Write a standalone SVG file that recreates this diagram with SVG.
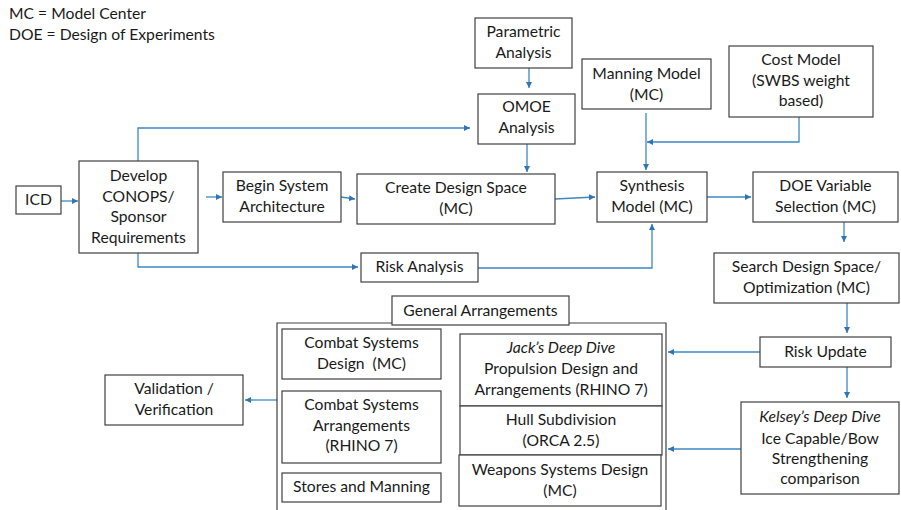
<svg xmlns="http://www.w3.org/2000/svg" width="901" height="510" viewBox="0 0 901 510">
<defs>
<marker id="ah" viewBox="0 0 10 10" refX="10" refY="5" markerWidth="6" markerHeight="6" markerUnits="userSpaceOnUse" orient="auto">
<path d="M0,0 L10,5 L0,10 z" fill="#2E75B6"/>
</marker>
<style>
.b{fill:#fff;stroke:#404040;stroke-width:1.2}
.c{fill:none;stroke:#3F87C4;stroke-width:1.3}
.a{marker-end:url(#ah)}
text{font-family:Lato,"Liberation Sans",sans-serif;font-size:15.7px;fill:#1a1a1a;text-anchor:middle;dominant-baseline:middle}
.l{text-anchor:start}
.i{font-style:italic}
</style>
</defs>
<rect width="901" height="510" fill="#fff"/>
<text class="l" x="9" y="15">MC = Model Center</text>
<text class="l" x="9" y="36">DOE = Design of Experiments</text>

<g id="connectors">
<path class="c a" d="M61,201 H78"/>
<path class="c a" d="M206,197 H222"/>
<path class="c a" d="M341,197 L355,199"/>
<path class="c a" d="M138,161 V128 H470"/>
<path class="c a" d="M529,68 V88"/>
<path class="c a" d="M527,144 V172"/>
<path class="c a" d="M555,199 L595,197"/>
<path class="c a" d="M646,113 V170"/>
<path class="c a" d="M799,117 V142 H647"/>
<path class="c a" d="M138,253 V267 H358"/>
<path class="c a" d="M478,268 H652 V224"/>
<path class="c a" d="M707,197 H751"/>
<path class="c a" d="M844,222 V242"/>
<path class="c a" d="M847,303 V333"/>
<path class="c a" d="M760,352 H668"/>
<path class="c a" d="M847,367 V398"/>
<path class="c a" d="M741,449 H668"/>
<path class="c a" d="M277,400 H245"/>
</g>

<g id="icd"><rect class="b" x="16" y="186" width="45" height="28"/><text x="38.5" y="201">ICD</text></g>
<g id="develop"><rect class="b" x="79" y="161" width="119" height="92"/>
<text x="138.5" y="177">Develop</text><text x="138.5" y="198">CONOPS/</text><text x="138.5" y="218">Sponsor</text><text x="138.5" y="239">Requirements</text></g>
<g id="begin"><rect class="b" x="223" y="172" width="118" height="50"/>
<text x="282" y="187">Begin System</text><text x="282" y="208">Architecture</text></g>
<g id="create"><rect class="b" x="357" y="174" width="198" height="50"/>
<text x="456" y="189">Create Design Space</text><text x="456" y="210">(MC)</text></g>
<g id="parametric"><rect class="b" x="475" y="18" width="97" height="50"/>
<text x="523.5" y="33">Parametric</text><text x="523.5" y="54">Analysis</text></g>
<g id="omoe"><rect class="b" x="478" y="94" width="97" height="50"/>
<text x="526.5" y="108">OMOE</text><text x="526.5" y="129">Analysis</text></g>
<g id="manning"><rect class="b" x="582" y="59" width="129" height="50"/>
<text x="646.5" y="75">Manning Model</text><text x="646.5" y="96">(MC)</text></g>
<g id="cost"><rect class="b" x="729" y="46" width="144" height="71"/>
<text x="801" y="61">Cost Model</text><text x="801" y="82">(SWBS weight</text><text x="801" y="102">based)</text></g>
<g id="synthesis"><rect class="b" x="597" y="172" width="110" height="50"/>
<text x="652" y="187">Synthesis</text><text x="652" y="208">Model (MC)</text></g>
<g id="doe"><rect class="b" x="753" y="172" width="145" height="50"/>
<text x="825.5" y="187">DOE Variable</text><text x="825.5" y="208">Selection (MC)</text></g>
<g id="risk-analysis"><rect class="b" x="361" y="253" width="117" height="29"/>
<text x="419.5" y="268">Risk Analysis</text></g>
<g id="search"><rect class="b" x="714" y="253" width="185" height="50"/>
<text x="806.5" y="268">Search Design Space/</text><text x="806.5" y="289">Optimization (MC)</text></g>
<g id="risk-update"><rect class="b" x="760" y="337" width="131" height="30"/>
<text x="825.5" y="353">Risk Update</text></g>
<g id="kelsey"><rect class="b" x="741" y="402" width="158" height="92"/>
<text class="i" x="820" y="418">Kelsey’s Deep Dive</text><text x="820" y="440">Ice Capable/Bow</text><text x="820" y="460">Strengthening</text><text x="820" y="480">comparison</text></g>
<g id="general-arrangements">
<path d="M277,510 V323 H666 V510" fill="none" stroke="#404040" stroke-width="1.2"/>
<rect class="b" x="392" y="296" width="177" height="29"/>
<text x="480.5" y="312">General Arrangements</text></g>
<g id="combat-design"><rect class="b" x="282" y="329" width="159" height="50"/>
<text x="361.5" y="344">Combat Systems</text><text x="361.5" y="365">Design&#160; (MC)</text></g>
<g id="combat-arr"><rect class="b" x="282" y="391" width="159" height="72"/>
<text x="361.5" y="406">Combat Systems</text><text x="361.5" y="427">Arrangements</text><text x="361.5" y="447">(RHINO 7)</text></g>
<g id="stores"><rect class="b" x="282" y="473" width="159" height="29"/>
<text x="361.5" y="488">Stores and Manning</text></g>
<g id="jack"><rect class="b" x="460" y="334" width="202" height="72"/>
<text class="i" x="561" y="349">Jack’s Deep Dive</text><text x="561" y="370">Propulsion Design and</text><text x="561" y="391">Arrangements (RHINO 7)</text></g>
<g id="hull"><rect class="b" x="460" y="406" width="202" height="49"/>
<text x="561" y="421">Hull Subdivision</text><text x="561" y="442">(ORCA 2.5)</text></g>
<g id="weapons"><rect class="b" x="459" y="455" width="202" height="51"/>
<text x="560" y="471">Weapons Systems Design</text><text x="560" y="492">(MC)</text></g>
<g id="validation"><rect class="b" x="105" y="375" width="138" height="50"/>
<text x="174" y="390">Validation /</text><text x="174" y="411">Verification</text></g>
</svg>
